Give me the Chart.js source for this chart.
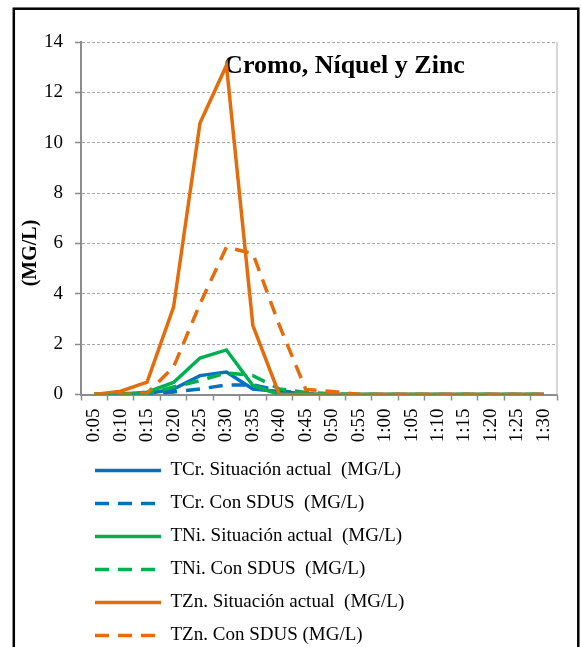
<!DOCTYPE html>
<html>
<head>
<meta charset="utf-8">
<script src="https://cdn.jsdelivr.net/npm/chart.js@4.4.0/dist/chart.umd.min.js"></script>
<style>
  html, body { margin: 0; padding: 0; background: #ffffff; overflow: hidden; }
  canvas { display: block; }
</style>
</head>
<body>
<canvas id="c" width="581" height="655"></canvas>
<script>
const categories = ['0:05','0:10','0:15','0:20','0:25','0:30','0:35','0:40','0:45','0:50','0:55','1:00','1:05','1:10','1:15','1:20','1:25','1:30'];
const tcrActual = [0, 0, 0.03, 0.22, 0.75, 0.89, 0.22, 0.12, 0.02, 0, 0, 0, 0, 0, 0, 0, 0, 0];
const tcrSdus   = [0, 0, 0, 0.10, 0.22, 0.38, 0.38, 0.16, 0.03, 0, 0, 0, 0, 0, 0, 0, 0, 0];
const tniActual = [0, 0.02, 0.09, 0.48, 1.45, 1.77, 0.36, 0, 0, 0, 0, 0, 0, 0, 0, 0, 0, 0];
const tniSdus   = [0, 0, 0.02, 0.30, 0.55, 0.86, 0.75, 0.22, 0.08, 0.03, 0, 0, 0, 0, 0, 0, 0, 0];
const tznActual = [0, 0.13, 0.49, 3.47, 10.78, 13.07, 2.74, 0, 0, 0, 0, 0, 0, 0, 0, 0, 0, 0];
const tznSdus   = [0, 0, 0.05, 1.09, 3.60, 5.85, 5.60, 2.75, 0.20, 0.12, 0, 0, 0, 0, 0, 0, 0, 0];
const seriesNames = [
  'TCr. Situación actual  (MG/L)',
  'TCr. Con SDUS  (MG/L)',
  'TNi. Situación actual  (MG/L)',
  'TNi. Con SDUS  (MG/L)',
  'TZn. Situación actual  (MG/L)',
  'TZn. Con SDUS (MG/L)'
];
const yTicksMin = 0, yTicksMax = 14, yTickStep = 2;
const chartTitle = 'Cromo, Níquel y Zinc';
const yTitle = '(MG/L)';

const BLUE = '#0070C0', GREEN = '#00B050', ORANGE = '#E46C0A';
const DASH = [14, 9];
const serif = "'Liberation Serif', 'Times New Roman', serif";

function ds(i, data, color, dashed) {
  return {
    label: seriesNames[i],
    data: data,
    borderColor: color,
    backgroundColor: color,
    borderWidth: 3.5,
    borderDash: dashed ? DASH : [],
    pointRadius: 0,
    pointHoverRadius: 0,
    pointStyle: 'line',
    tension: 0,
    fill: false,
    order: 5 - i
  };
}

const decor = {
  id: 'decor',
  beforeDraw(chart) {
    const ctx = chart.ctx;
    ctx.save();
    ctx.fillStyle = '#ffffff';
    ctx.fillRect(0, 0, chart.width, chart.height);
    ctx.restore();
  },
  beforeDatasetsDraw(chart) {
    const ctx = chart.ctx;
    const a = chart.chartArea;
    ctx.save();
    ctx.strokeStyle = '#c8c8c8';
    ctx.lineWidth = 1.5;
    ctx.beginPath();
    ctx.moveTo(a.right, a.top);
    ctx.lineTo(a.right, a.bottom);
    ctx.stroke();
    ctx.fillStyle = '#000000';
    ctx.font = "bold 26px " + serif;
    ctx.textAlign = 'center';
    ctx.textBaseline = 'middle';
    ctx.fillText(chartTitle, 344.5, 66);
    ctx.translate(31, 253);
    ctx.rotate(-Math.PI / 2);
    ctx.font = "bold 20px " + serif;
    ctx.fillText(yTitle, 0, 0);
    ctx.restore();
  },
  afterDraw(chart) {
    const ctx = chart.ctx;
    ctx.save();
    ctx.strokeStyle = '#000000';
    ctx.lineWidth = 2.5;
    ctx.strokeRect(13.8, 8.7, 564.5, 700);
    ctx.restore();
  }
};

const baseLabels = Chart.defaults.plugins.legend.labels.generateLabels;

new Chart(document.getElementById('c'), {
  type: 'line',
  data: {
    labels: categories,
    datasets: [
      ds(0, tcrActual, BLUE, false),
      ds(1, tcrSdus, BLUE, true),
      ds(2, tniActual, GREEN, false),
      ds(3, tniSdus, GREEN, true),
      ds(4, tznActual, ORANGE, false),
      ds(5, tznSdus, ORANGE, true)
    ]
  },
  options: {
    responsive: false,
    animation: false,
    devicePixelRatio: 1,
    layout: { padding: { left: 0, right: 24, top: 42, bottom: 0 } },
    plugins: {
      title: { display: false },
      tooltip: { enabled: false },
      legend: {
        display: true,
        position: 'bottom',
        align: 'start',
        fullSize: false,
        labels: {
          usePointStyle: true,
          pointStyleWidth: 66,
          padding: 14,
          color: '#000000',
          font: { family: serif, size: 19 },
          sort: (a, b) => a.datasetIndex - b.datasetIndex,
          generateLabels(chart) {
            return baseLabels(chart).map(item => {
              const d = chart.data.datasets[item.datasetIndex];
              item.lineWidth = d.borderWidth;
              item.lineDash = d.borderDash;
              item.strokeStyle = d.borderColor;
              item.fillStyle = d.borderColor;
              item.pointStyle = 'line';
              item.lineCap = 'butt';
              return item;
            });
          }
        }
      }
    },
    scales: {
      x: {
        type: 'category',
        offset: true,
        grid: {
          offset: true,
          drawOnChartArea: false,
          drawTicks: true,
          tickLength: 6,
          tickColor: '#8c8c8c',
          tickWidth: 1.5
        },
        border: { color: '#8c8c8c', width: 2 },
        ticks: {
          autoSkip: false,
          minRotation: 90,
          maxRotation: 90,
          padding: 8,
          color: '#000000',
          font: { family: serif, size: 19 }
        },
        afterFit(scale) { scale.height = 52.5; }
      },
      y: {
        min: yTicksMin,
        max: yTicksMax,
        ticks: {
          stepSize: yTickStep,
          padding: 12,
          color: '#000000',
          font: { family: serif, size: 19 }
        },
        grid: {
          color: ctx => (ctx.tick && ctx.tick.value === 0) ? 'rgba(0,0,0,0)' : '#a6a6a6',
          lineWidth: 1,
          tickLength: 6,
          tickColor: '#8c8c8c',
          tickWidth: 1.5,
          tickBorderDash: []
        },
        border: { color: '#8c8c8c', width: 2, dash: [3, 2] },
        afterFit(scale) { scale.width = 81; }
      }
    }
  },
  plugins: [decor]
});
</script>
</body>
</html>
